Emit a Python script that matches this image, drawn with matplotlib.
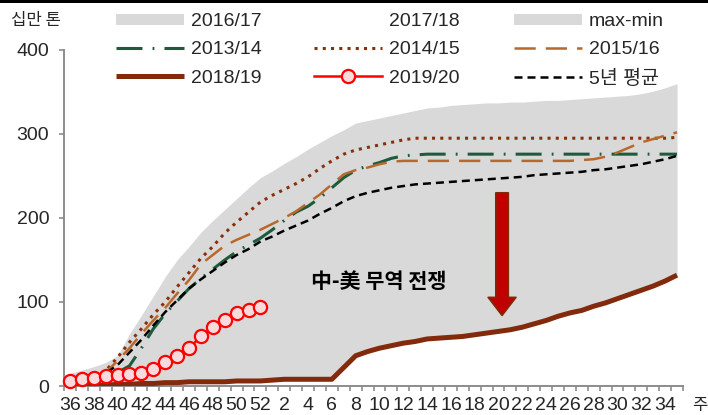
import numpy as np
import matplotlib
matplotlib.use('Agg')
import matplotlib.pyplot as plt
from matplotlib.patches import Patch, Rectangle

plt.rcParams['font.family'] = ['Liberation Sans', 'Noto Sans CJK KR']
plt.rcParams['axes.unicode_minus'] = False

# 주차 (마케팅연도 36주 ~ 이듬해 35주)
weeks = list(range(36, 53)) + list(range(1, 36))

# max-min 범위 (십만 톤)
band_max = [15, 19, 23, 28, 36, 62, 84, 107, 130, 150, 166, 183, 197, 210, 223, 236, 248,
            256, 265, 273, 282, 290, 298, 305, 313, 316, 319, 322, 325, 328, 331, 332, 334,
            335, 336, 337, 337, 338, 338, 339, 340, 340, 341, 342, 343, 344, 345, 346, 348,
            351, 355, 360]

s1314 = [3, 5, 8, 12, 16, 24, 45, 68, 86, 101, 116, 128, 139, 150, 160, 168, 176, 186, 197,
         207, 214, 224, 236, 248, 257, 262, 266, 271, 274, 275] + [276] * 22

s1415 = [4, 7, 11, 18, 34, 52, 68, 85, 100, 118, 135, 152, 166, 182, 195, 207, 219, 227, 234,
         241, 249, 259, 268, 276, 281, 284, 287, 290, 293] + [295] * 22 + [296]

s1516 = [3, 6, 10, 16, 30, 45, 62, 78, 93, 110, 126, 145, 156, 167, 174, 180, 186, 193, 200,
         208, 218, 228, 240, 252, 257, 260, 264, 267] + [268] * 15 + [269, 270, 273, 278, 284,
                                                                      290, 294, 298, 302]

s1819 = [0, 0, 0, 1, 2, 2, 3, 3, 4, 4, 5, 5, 5, 5, 6, 6, 6, 7, 8, 8, 8, 8, 8, 22, 36, 41, 45,
         48, 51, 53, 56, 57, 58, 59, 61, 63, 65, 67, 70, 74, 78, 83, 87, 90, 95, 99, 104, 109,
         114, 119, 125, 132]
band_min = s1819

s1920 = [6, 8, 10, 12, 13, 14, 15, 20, 29, 36, 45, 59, 70, 79, 87, 90, 94]

avg5 = [4, 7, 11, 15, 25, 40, 55, 72, 88, 102, 116, 127, 137, 147, 156, 163, 172, 178, 185,
        191, 197, 205, 212, 220, 226, 230, 233, 236, 238, 240, 241, 242, 243, 244, 245, 246,
        247, 248, 249, 251, 252, 253, 254, 255, 257, 258, 260, 262, 264, 267, 270, 274]

x = np.arange(len(weeks))
grey = '#D9D9D9'

fig = plt.figure(figsize=(7.08, 4.15), dpi=100)
ax = fig.add_axes([64 / 708, 1 - 386 / 415, 619 / 708, 336 / 415])

ax.fill_between(x, band_min, band_max, color=grey, lw=0, zorder=1)

l1314, = ax.plot(x, s1314, color='#1E5B3C', lw=2.2, ls=(0, (8.5, 3.3, 0.6, 3.3)), zorder=3)
l1415, = ax.plot(x, s1415, color='#8B2E0B', lw=2.2, ls=(0, (1, 1.7)), zorder=3)
l1516, = ax.plot(x, s1516, color='#B8682A', lw=1.8, ls=(0, (8.5, 4)), zorder=3)
l1819, = ax.plot(x, s1819, color='#832A0D', lw=3.6, zorder=4, solid_capstyle='butt')
l1920, = ax.plot(x[:len(s1920)], s1920, color='#FF0000', lw=1.8, marker='o', ms=9.5,
                 mfc='#F8DADC', mec='#FF0000', mew=1.6, zorder=5, clip_on=False)
lavg, = ax.plot(x, avg5, color='black', lw=1.8, ls=(0, (3.2, 2)), zorder=4)

# 화살표와 주석
ax.annotate('', xy=(36.3, 84), xytext=(36.3, 230),
            arrowprops=dict(arrowstyle='simple,head_length=1.3,head_width=2.0,tail_width=0.9',
                            mutation_scale=10, fc='#C00000', ec='#7F2A0A', lw=1.2,
                            shrinkA=0, shrinkB=0), zorder=6)
ax.text(25.9, 125, '中-美 무역 전쟁', ha='center', va='center', fontsize=15,
        fontweight='bold', family=['Noto Sans CJK KR'], zorder=6)

ax.set_xlim(-0.5, 51.5)
ax.set_ylim(0, 400)
ax.set_yticks([0, 100, 200, 300, 400])
ax.set_xticks(np.arange(-0.5, 52, 1))
ax.set_xticklabels([])
lab_pos = [i for i, w in enumerate(weeks) if w % 2 == 0]
ax.set_xticks(lab_pos, minor=True)
ax.set_xticklabels([str(weeks[i]) for i in lab_pos], minor=True)

axis_col = '#8C8C8C'
for s in ['top', 'right']:
    ax.spines[s].set_visible(False)
for s in ['left', 'bottom']:
    ax.spines[s].set_color(axis_col)
    ax.spines[s].set_linewidth(1.4)
ax.tick_params(axis='both', which='major', direction='out', length=3.6, width=1.2,
               color=axis_col, labelsize=14, labelcolor='#262626')
ax.tick_params(axis='y', pad=7)
ax.tick_params(axis='x', which='minor', length=0, labelsize=14, pad=8, labelcolor='#262626')

fig.text(36 / 708, 1 - 20 / 415, '십만 톤', ha='center', va='center', fontsize=12,
         color='#262626', family=['Noto Sans CJK KR'])
fig.text(692 / 708, 1 - 405 / 415, '주', ha='left', va='center', fontsize=12,
         color='#262626', family=['Noto Sans CJK KR'])

# 범례 (3열)
h_patch = Patch(facecolor=grey, edgecolor='none')
h_blank = Patch(facecolor='none', edgecolor='none')
columns = [
    ([h_patch, l1314, l1819], ['2016/17', '2013/14', '2018/19'], 116),
    ([h_blank, l1415, l1920], ['2017/18', '2014/15', '2019/20'], 314),
    ([h_patch, l1516, lavg], ['max-min', '2015/16', '5년 평균'], 514),
]
for hs, ls_, xpix in columns:
    fig.legend(hs, ls_, loc='upper left', bbox_to_anchor=(xpix / 708, 1 - 13 / 415),
               bbox_transform=fig.transFigure, frameon=False, borderpad=0,
               borderaxespad=0, handlelength=3.5, handletextpad=0.36,
               labelspacing=0.58, fontsize=14, handleheight=0.5, labelcolor='#262626')

fig.add_artist(Rectangle((0, 1 - 3 / 415), 1, 3 / 415, transform=fig.transFigure,
                         color='black', lw=0))

fig.savefig('out.png', dpi=100)
